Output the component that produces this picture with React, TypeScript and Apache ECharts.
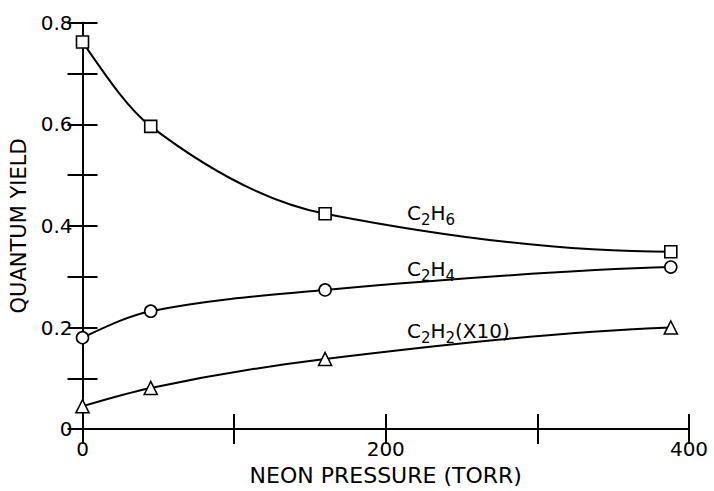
import React, { useEffect, useRef } from "react";
import * as echarts from "echarts";

const pressures = [0, 45, 160, 388];
const c2h6 = [0.762, 0.596, 0.424, 0.349];
const c2h4 = [0.18, 0.232, 0.274, 0.319];
const c2h2x10 = [0.045, 0.081, 0.138, 0.2];

const xTickLabels = [0, 200, 400];
const yTickLabels = [0, 0.2, 0.4, 0.6, 0.8];

const seriesLabels = [
  { text: "{n|C}{s|2}{n|H}{s|6}", x: 214, y: 0.426 },
  { text: "{n|C}{s|2}{n|H}{s|4}", x: 214, y: 0.316 },
  { text: "{n|C}{s|2}{n|H}{s|2}{n|(X10)}", x: 214, y: 0.194 },
];

const FONT = "DejaVu Sans";

// monotone cubic (PCHIP) slopes for smooth curves through the data points
function pchipSlopes(xs: number[], ys: number[]): number[] {
  const n = xs.length;
  const h: number[] = [];
  const d: number[] = [];
  for (let k = 0; k < n - 1; k++) {
    h.push(xs[k + 1] - xs[k]);
    d.push((ys[k + 1] - ys[k]) / h[k]);
  }
  const m: number[] = new Array(n).fill(0);
  for (let k = 1; k < n - 1; k++) {
    if (d[k - 1] * d[k] <= 0) {
      m[k] = 0;
    } else {
      const w1 = 2 * h[k] + h[k - 1];
      const w2 = h[k] + 2 * h[k - 1];
      m[k] = (w1 + w2) / (w1 / d[k - 1] + w2 / d[k]);
    }
  }
  const endSlope = (h0: number, h1: number, d0: number, d1: number) => {
    let s = ((2 * h0 + h1) * d0 - h0 * d1) / (h0 + h1);
    if (Math.sign(s) !== Math.sign(d0)) s = 0;
    else if (Math.sign(d0) !== Math.sign(d1) && Math.abs(s) > Math.abs(3 * d0)) s = 3 * d0;
    return s;
  };
  m[0] = endSlope(h[0], h[1], d[0], d[1]);
  m[n - 1] = endSlope(h[n - 2], h[n - 3], d[n - 2], d[n - 3]);
  return m;
}

export default function App() {
  const ref = useRef<HTMLDivElement>(null);
  useEffect(() => {
    if (!ref.current) return;
    const chart = echarts.init(ref.current, null, { renderer: "svg" });
    const axisLine = { show: true, lineStyle: { color: "#000", width: 2 } };
    const tick = { show: true, inside: true, length: 15, lineStyle: { color: "#000", width: 2 } };

    const curveSeries = (vals: number[]) => {
      const m = pchipSlopes(pressures, vals);
      return {
        type: "custom",
        coordinateSystem: "cartesian2d",
        silent: true,
        z: 2,
        data: pressures.map((p, i) => [p, vals[i]]),
        encode: { x: 0, y: 1 },
        renderItem: (params: any, api: any) => {
          const i = params.dataIndex;
          if (i >= pressures.length - 1) return { type: "group", children: [] };
          const x0 = pressures[i];
          const x1 = pressures[i + 1];
          const y0 = vals[i];
          const y1 = vals[i + 1];
          const hh = x1 - x0;
          const p0 = api.coord([x0, y0]);
          const c1 = api.coord([x0 + hh / 3, y0 + (m[i] * hh) / 3]);
          const c2 = api.coord([x1 - hh / 3, y1 - (m[i + 1] * hh) / 3]);
          const p3 = api.coord([x1, y1]);
          return {
            type: "bezierCurve",
            shape: {
              x1: p0[0], y1: p0[1],
              cpx1: c1[0], cpy1: c1[1],
              cpx2: c2[0], cpy2: c2[1],
              x2: p3[0], y2: p3[1],
            },
            style: { stroke: "#000", lineWidth: 2, fill: null },
          };
        },
      };
    };

    const markerSeries = (name: string, vals: number[], symbol: string, size: number, lab: typeof seriesLabels[0]) => ({
      type: "scatter",
      name,
      z: 3,
      data: pressures.map((p, i) => [p, vals[i]]),
      symbol,
      symbolSize: size,
      itemStyle: { color: "#fff", borderColor: "#000", borderWidth: 1.6, opacity: 1 },
      markPoint: {
        symbol: "circle",
        symbolSize: 0,
        data: [
          {
            coord: [lab.x, lab.y],
            label: {
              show: true,
              position: "right",
              distance: 0,
              formatter: lab.text,
              rich: {
                n: { fontFamily: FONT, fontSize: 20, color: "#000" },
                s: { fontFamily: FONT, fontSize: 15, color: "#000", padding: [14, 0, 0, 0] },
              },
            },
          },
        ],
      },
    });

    chart.setOption({
      animation: false,
      backgroundColor: "#fff",
      grid: { left: 82.5, right: 25, top: 22.7, bottom: 54.5 },
      xAxis: [
        {
          type: "value",
          min: 0,
          max: 400,
          interval: 100,
          position: "bottom",
          axisLine,
          axisTick: tick,
          splitLine: { show: false },
          axisLabel: {
            color: "#000",
            fontFamily: FONT,
            fontSize: 20,
            margin: 10,
            formatter: (v: number) => (xTickLabels.includes(v) ? String(v) : ""),
          },
          name: "NEON PRESSURE (TORR)",
          nameLocation: "middle",
          nameGap: 34,
          nameTextStyle: { color: "#000", fontFamily: FONT, fontSize: 22 },
        },
        {
          type: "value",
          min: 0,
          max: 400,
          interval: 100,
          position: "top",
          axisLine,
          axisTick: tick,
          splitLine: { show: false },
          axisLabel: { show: false },
        },
      ],
      yAxis: [
        {
          type: "value",
          min: 0,
          max: 0.8,
          interval: 0.1,
          position: "left",
          axisLine,
          axisTick: tick,
          splitLine: { show: false },
          axisLabel: {
            color: "#000",
            fontFamily: FONT,
            fontSize: 20,
            margin: 10,
            formatter: (v: number) => {
              const mm = yTickLabels.find((t) => Math.abs(t - v) < 1e-6);
              if (mm === undefined) return "";
              return mm === 0 ? "0" : mm.toFixed(1);
            },
          },
          name: "QUANTUM YIELD",
          nameLocation: "middle",
          nameGap: 50,
          nameTextStyle: { color: "#000", fontFamily: FONT, fontSize: 21 },
        },
        {
          type: "value",
          min: 0,
          max: 0.8,
          interval: 0.1,
          position: "right",
          axisLine,
          axisTick: tick,
          splitLine: { show: false },
          axisLabel: { show: false },
        },
      ],
      series: [
        curveSeries(c2h6),
        curveSeries(c2h4),
        curveSeries(c2h2x10),
        markerSeries("C2H6", c2h6, "rect", 12, seriesLabels[0]),
        markerSeries("C2H4", c2h4, "circle", 12, seriesLabels[1]),
        markerSeries("C2H2 (x10)", c2h2x10, "triangle", 13, seriesLabels[2]),
      ],
    });
    return () => chart.dispose();
  }, []);
  return (
    <div
      ref={ref}
      style={{ position: "fixed", left: 0, top: 0, width: 714, height: 491, background: "#fff" }}
    />
  );
}
